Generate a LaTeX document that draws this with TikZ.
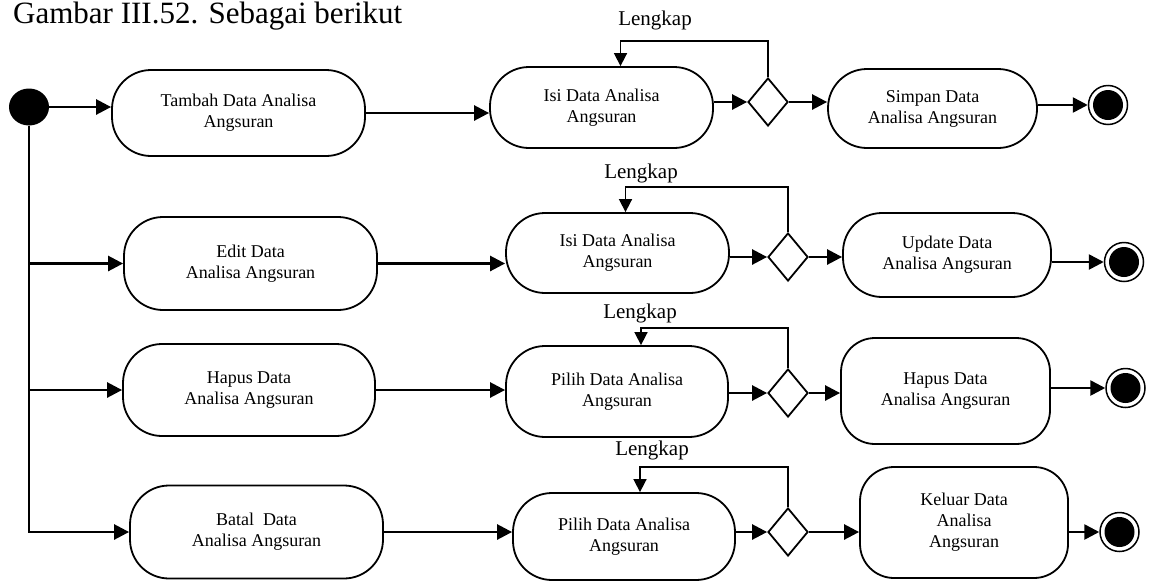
\documentclass[tikz,border=0pt]{standalone}
\usepackage{fontspec}
\setmainfont{Liberation Serif}
\usetikzlibrary{arrows.meta,shapes.geometric,calc}

\begin{document}
\begin{tikzpicture}[x=1pt,y=-1pt,
  act/.style={draw, line width=1.8pt, rectangle, rounded corners=39pt, align=center,
              inner sep=0pt, font=\fontsize{18}{21}\selectfont},
  decision/.style={draw, diamond, line width=1.8pt, minimum width=40pt, minimum height=48pt, inner sep=0pt},
  initial/.style={ellipse, fill=black, minimum width=40pt, minimum height=37pt, inner sep=0pt},
  final/.style={circle, draw, line width=1.5pt, minimum size=39pt, inner sep=0pt,
                path picture={\fill (path picture bounding box.center) circle[radius=15pt];}},
  flow/.style={line width=2.6pt, -{Triangle[length=15pt,width=15pt]}},
  guard/.style={line width=1.6pt, -{Triangle[length=13pt,width=13pt]}},
  lab/.style={anchor=base, inner sep=0pt, font=\fontsize{21}{24}\selectfont}
]
\useasboundingbox (0,0) rectangle (1150,584);

% heading
\node[anchor=base west, inner sep=0pt, font=\fontsize{31}{36}\selectfont] (title) at (13,23) {Gambar III.52. Sebagai berikut};

% initial state
\node[initial] (start) at (29,107) {};

% row 1: tambah
\node[act, minimum width=253pt, minimum height=86pt] (tambah) at (238.5,113) {Tambah Data Analisa\\Angsuran};
\node[act, minimum width=223pt, minimum height=81pt] (isi1) at (601.5,107.5) {Isi Data Analisa\\Angsuran};
\node[decision] (d1) at (768,102) {};
\node[act, minimum width=209pt, minimum height=79pt] (simpan) at (932.5,108.5) {Simpan Data\\Analisa Angsuran};
\node[final] (end1) at (1108,105) {};
\node[lab] (l1) at (655,25) {Lengkap};

% row 2: edit
\node[act, minimum width=253pt, minimum height=93pt] (edit) at (250.5,263.5) {Edit Data\\Analisa Angsuran};
\node[act, minimum width=223pt, minimum height=80pt] (isi2) at (617.5,253) {Isi Data Analisa\\Angsuran};
\node[decision] (d2) at (788,257) {};
\node[act, minimum width=208pt, minimum height=84pt] (update) at (947,255) {Update Data\\Analisa Angsuran};
\node[final] (end2) at (1124,262) {};
\node[lab] (l2) at (641,178) {Lengkap};

% row 3: hapus
\node[act, minimum width=252pt, minimum height=92pt] (hapusl) at (249,390) {Hapus Data\\Analisa Angsuran};
\node[act, minimum width=222pt, minimum height=91pt] (pilih1) at (617,391.5) {Pilih Data Analisa\\Angsuran};
\node[decision] (d3) at (788,393) {};
\node[act, rounded corners=34pt, minimum width=209pt, minimum height=106pt] (hapusr) at (945.5,391) {Hapus Data\\Analisa Angsuran};
\node[final] (end3) at (1125.5,388) {};
\node[lab] (l3) at (640,318) {Lengkap};

% row 4: batal
\node[act, minimum width=253pt, minimum height=93pt] (batal) at (256.5,532) {Batal\ \ Data\\Analisa Angsuran};
\node[act, minimum width=222pt, minimum height=87pt] (pilih2) at (624,536.5) {Pilih Data Analisa\\Angsuran};
\node[decision] (d4) at (788,532) {};
\node[act, rounded corners=34pt, minimum width=208pt, minimum height=111pt] (keluar) at (964,522.5) {Keluar Data\\Analisa\\Angsuran};
\node[final] (end4) at (1119.5,532) {};
\node[lab] (l4) at (652,455) {Lengkap};

% fork from the initial state
\draw[flow] (start.east) -- (start.east -| tambah.west);
\draw[flow] (start.south) |- (edit.west);
\draw[flow] (start.south) |- (hapusl.west);
\draw[flow] (start.south) |- (batal.west);

% row 1 flows
\draw[flow] (tambah.east) -- (tambah.east -| isi1.west);
\draw[flow] (d1.west -| isi1.east) -- (d1.west);
\draw[flow] (d1.east) -- (d1.east -| simpan.west);
\draw[flow] (simpan.east |- end1) -- (end1.west);
\draw[guard] (d1.north) -- ++(0,-36) -| ([xshift=19pt]isi1.north);

% row 2 flows
\draw[flow] (edit.east) -- (edit.east -| isi2.west);
\draw[flow] (d2.west -| isi2.east) -- (d2.west);
\draw[flow] (d2.east) -- (d2.east -| update.west);
\draw[flow] (update.east |- end2) -- (end2.west);
\draw[guard] (d2.north) -- ++(0,-45) -| ([xshift=8pt]isi2.north);

% row 3 flows
\draw[flow] (hapusl.east) -- (hapusl.east -| pilih1.west);
\draw[flow] (d3.west -| pilih1.east) -- (d3.west);
\draw[flow] (d3.east) -- (d3.east -| hapusr.west);
\draw[flow] (hapusr.east |- end3) -- (end3.west);
\draw[guard] (d3.north) -- ++(0,-40) -| ([xshift=24pt]pilih1.north);

% row 4 flows
\draw[flow] (batal.east) -- (batal.east -| pilih2.west);
\draw[flow] (d4.west -| pilih2.east) -- (d4.west);
\draw[flow] (d4.east) -- (d4.east -| keluar.west);
\draw[flow] (keluar.east |- end4) -- (end4.west);
\draw[guard] (d4.north) -- ++(0,-40) -| ([xshift=16pt]pilih2.north);
\end{tikzpicture}
\end{document}
